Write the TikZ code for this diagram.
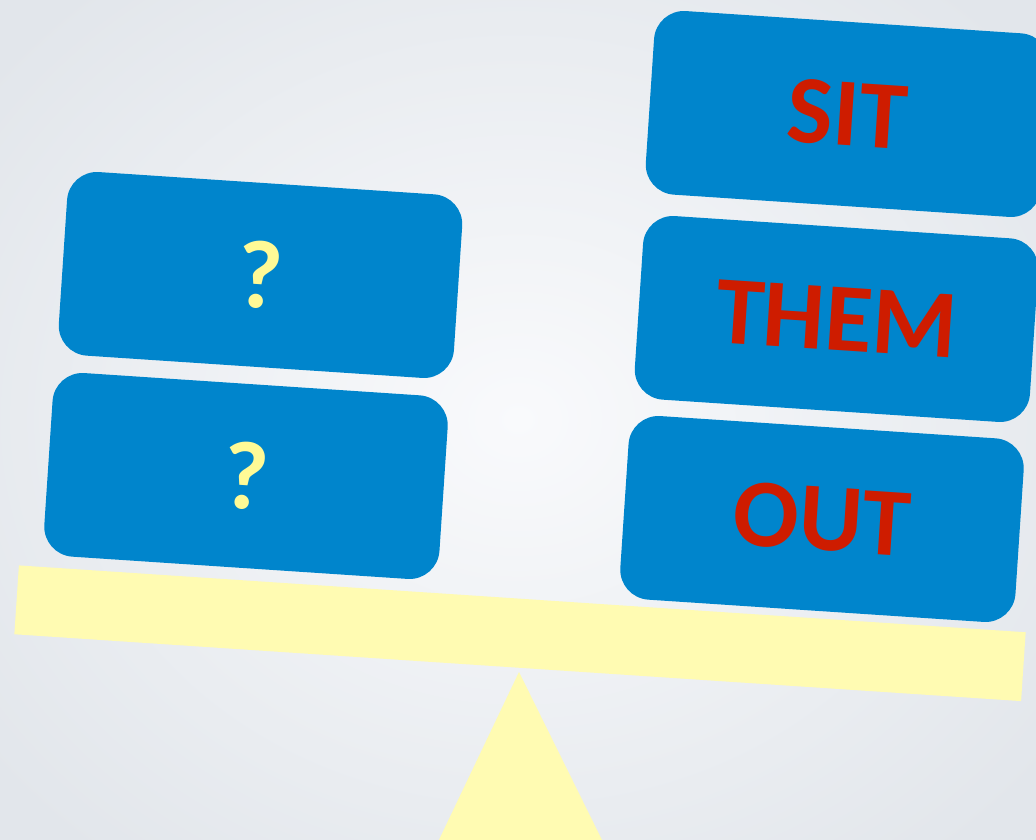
\documentclass[tikz,border=0pt]{standalone}
\usepackage{fontspec}
\setmainfont{Carlito}
\definecolor{cardblue}{RGB}{0,133,204}
\definecolor{wordred}{RGB}{206,28,0}
\definecolor{qyellow}{RGB}{255,250,150}
\definecolor{beamyellow}{RGB}{255,251,178}
\definecolor{bgedge}{RGB}{226,230,235}
\definecolor{bgmid}{RGB}{249,250,252}

\begin{document}
\begin{tikzpicture}[x=1pt,y=1pt,
  card/.style={fill=cardblue,rounded corners=30pt,minimum width=396pt,minimum height=184pt,
    inner sep=0pt,rotate=-3.8,font=\fontsize{97}{97}\selectfont\bfseries},
  ask/.style={card,text=qyellow},
  word/.style={card,text=wordred}]
% frame and backdrop
\useasboundingbox (0,0) rectangle (1036,839);
\clip (0,0) rectangle (1036,839);
\shade[inner color=bgmid,outer color=bgedge] (-150,-150) rectangle (1186,989);
% fulcrum
\coordinate (tip) at (519,167);
\fill[beamyellow] (tip) -- (437,-5) -- (604,-5) -- cycle;
% beam
\node[fill=beamyellow,minimum width=1009pt,minimum height=69pt,inner sep=0pt,rotate=-3.8] (beam) at (520,205.75) {};
% left pan
\node[ask] (q1) at (260.5,564) {?};
\node[ask] (q2) at (246,363) {?};
% right pan
\node[word] (sit) at (847.5,725) {SIT};
\node[word] (them) at (836.5,520) {THEM};
\node[word] (out) at (822,320) {OUT};
\end{tikzpicture}
\end{document}
